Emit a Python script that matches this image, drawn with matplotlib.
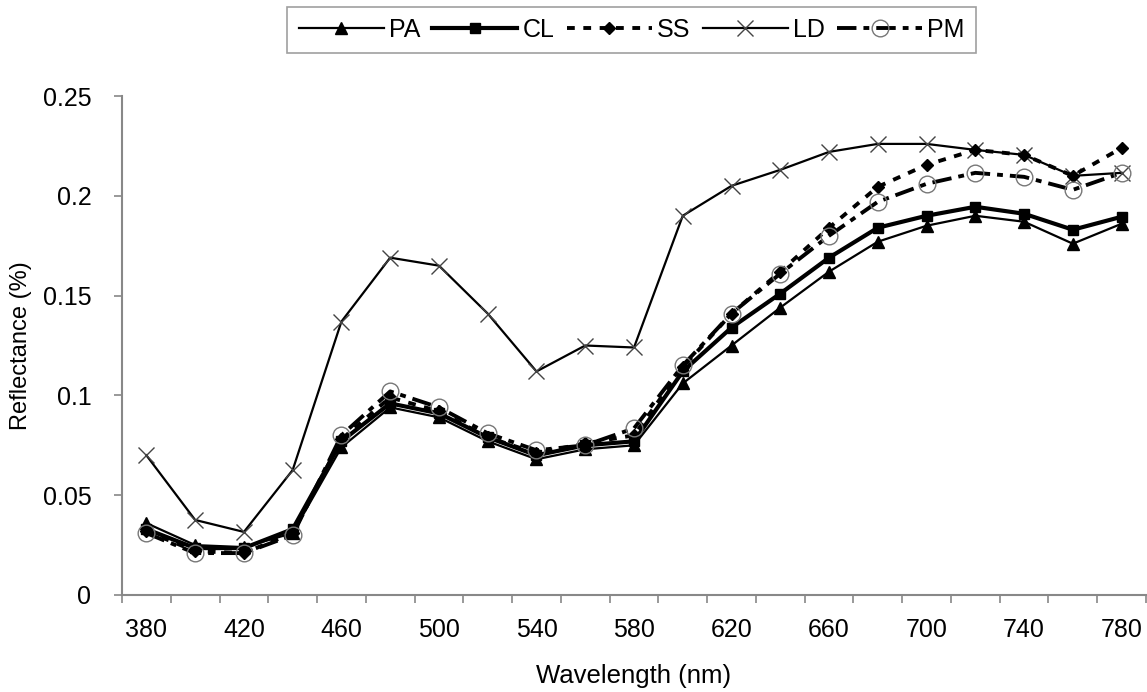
import matplotlib
matplotlib.use("Agg")
import matplotlib.pyplot as plt
import numpy as np

plt.rcParams['font.family'] = ['Liberation Sans', 'DejaVu Sans']

wavelength = [380, 400, 420, 440, 460, 480, 500, 520, 540, 560, 580,
              600, 620, 640, 660, 680, 700, 720, 740, 760, 780]

PA = [0.036, 0.025, 0.024, 0.031, 0.074, 0.094, 0.089, 0.077, 0.068, 0.073, 0.075,
      0.106, 0.125, 0.144, 0.162, 0.177, 0.185, 0.190, 0.187, 0.176, 0.186]
CL = [0.033, 0.0235, 0.0235, 0.033, 0.077, 0.096, 0.091, 0.079, 0.070, 0.075, 0.077,
      0.112, 0.134, 0.151, 0.169, 0.184, 0.190, 0.1945, 0.191, 0.183, 0.1895]
SS = [0.032, 0.022, 0.021, 0.031, 0.078, 0.099, 0.092, 0.079, 0.071, 0.076, 0.080,
      0.114, 0.141, 0.162, 0.184, 0.2045, 0.2155, 0.223, 0.2205, 0.210, 0.224]
LD = [0.070, 0.0376, 0.0316, 0.0626, 0.137, 0.169, 0.165, 0.141, 0.112, 0.125, 0.124,
      0.190, 0.205, 0.213, 0.222, 0.226, 0.226, 0.223, 0.2205, 0.210, 0.2115]
PM = [0.031, 0.021, 0.021, 0.030, 0.080, 0.102, 0.094, 0.081, 0.0725, 0.075, 0.0835,
      0.115, 0.141, 0.161, 0.180, 0.197, 0.206, 0.2115, 0.2095, 0.203, 0.2115]

xtick_labels = [380, 420, 460, 500, 540, 580, 620, 660, 700, 740, 780]
yticks = [0, 0.05, 0.1, 0.15, 0.2, 0.25]

fig = plt.figure(figsize=(11.47, 6.92), dpi=100)
ax = fig.add_axes([122/1147, 1-595/692, (1146-122)/1147, (595-96)/692])

ax.plot(wavelength, PA, color='black', lw=1.6, marker='^', ms=8, mfc='black', mec='black', label='PA', zorder=3)
ax.plot(wavelength, CL, color='black', lw=3.0, marker='s', ms=7.5, mfc='black', mec='black', label='CL', zorder=3)
ax.plot(wavelength, SS, color='black', lw=2.8, linestyle=(0, (2, 2.2)), marker='D', ms=6, mfc='black', mec='black', label='SS', zorder=4)
ax.plot(wavelength, LD, color='black', lw=1.6, marker='x', ms=12, mew=1.0, mec='#444444', label='LD', zorder=3)
ax.plot(wavelength, PM, color='black', lw=2.8, linestyle=(0, (5, 1.8, 1.5, 1.8)), marker='o', ms=12, mfc='none', mec='#777777', mew=1.0, label='PM', zorder=5)

ax.set_xlim(370, 790)
ax.set_ylim(0, 0.25)
ax.set_xticks(xtick_labels)
ax.set_xticklabels([str(v) for v in xtick_labels])
ax.set_xticks(np.arange(370, 791, 20), minor=True)
ax.tick_params(axis='x', which='major', length=0, pad=16.5, labelsize=18)
ax.tick_params(axis='x', which='minor', length=6, width=1.2, color='#888888', direction='out')
ax.set_yticks(yticks)
ax.set_yticklabels(['0', '0.05', '0.1', '0.15', '0.2', '0.25'])
ax.tick_params(axis='y', length=6, width=1.2, color='#888888', direction='out', labelsize=18, pad=16)

for s in ['top', 'right']:
    ax.spines[s].set_visible(False)
for s in ['left', 'bottom']:
    ax.spines[s].set_color('#888888')
    ax.spines[s].set_linewidth(1.5)

ax.set_xlabel('Wavelength (nm)', fontsize=18.5, labelpad=16)
ax.set_ylabel('Reflectance (%)', fontsize=17, labelpad=8)

leg = fig.legend(loc='upper center', bbox_to_anchor=(0.5506, 0.99), ncol=5, fontsize=18,
                 handlelength=3.4, handletextpad=0.2, columnspacing=0.5, frameon=True,
                 fancybox=False, borderpad=0.45, borderaxespad=0.0)
leg.get_frame().set_edgecolor('#888888')
leg.get_frame().set_linewidth(1.2)

fig.savefig('out.png', dpi=100)
